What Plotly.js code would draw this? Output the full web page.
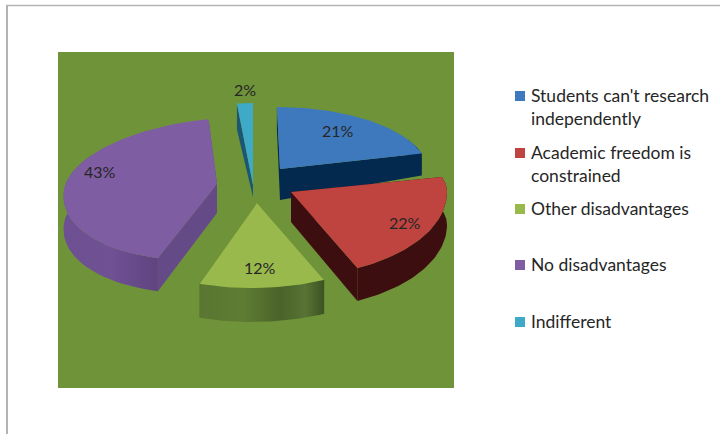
<!DOCTYPE html>
<html><head><meta charset="utf-8">
<script src="https://cdn.plot.ly/plotly-3.0.1.min.js"></script>
<style>html,body{margin:0;padding:0;background:#fff;overflow:hidden}#c{width:720px;height:434px}</style>
</head><body><div id="c"></div><script>
// ---- data ----
const categories = ["Students can't research<br>independently","Academic freedom is<br>constrained","Other disadvantages","No disadvantages","Indifferent"];
const percents = [21,22,12,43,2];
// ---- styles ----
const topColors  = ["#3f79bd","#bf4440","#99b94c","#7f5da3","#3fa9c8"];
const cutColors  = ["#03294e","#3c0e0f","#4c6628","#654a88","#1c5670"];
const wallScales = [
  [[0,"#03294e"],[1,"#03294e"]],
  [[0,"#3c0e0f"],[1,"#3c0e0f"]],
  [[0,"#5a7631"],[0.35,"#5f7c33"],[0.65,"#4a6329"],[0.85,"#587334"],[1,"#3d5222"]],
  [[0,"#6d5092"],[0.5,"#6f5194"],[1,"#5f4480"]],
  [[0,"#1c5670"],[1,"#1c5670"]]
];
// projection of each exploded slice onto the page (pixels)
const apexX = [280,291,257,217,253], apexY = [169,192,203,184,185];
const radX  = [147,156,169,152,128], radBack = [62,60,85,66,82], radFront = [60,84,85,76,80];
const skew  = [0.05,0,-0.063,-0.164,0], tilt = [0,0,0,-0.04,0];
const rimDepth = [22,33,34,33,26], apexDepth = [31,30,0,29,12];
const labelX = [338,405,260,100,245], labelY = [130,222,267,171,89];
const legendY = [96,153,209,265,322];
const paintOrder = [4,0,3,2,1];

function rim(i,deg){
  const t = deg*Math.PI/180, s = Math.sin(t), c = Math.cos(t);
  const dx = radX[i]*s;
  const dy = -(c>0?radBack[i]:radFront[i])*c + tilt[i]*dx;
  return [apexX[i]+dx+skew[i]*dy, apexY[i]+dy];
}
const starts = []; let acc = 0;
percents.forEach(p=>{starts.push(acc); acc += p*3.6;});

const traces = [];
const poly = (xy,color,grad)=>{
  const t = {type:"scatter",mode:"lines",x:xy.map(p=>p[0]),y:xy.map(p=>p[1]),fill:"toself",
    line:{width:0},fillcolor:color,hoverinfo:"skip",showlegend:false};
  if(grad) t.fillgradient = {type:"horizontal",colorscale:grad};
  traces.push(t);
};
paintOrder.forEach(i=>{
  const a0 = starts[i], a1 = a0+percents[i]*3.6;
  const arc = [];
  for(let k=0;k<=60;k++) arc.push(rim(i,a0+(a1-a0)*k/60));
  const ap = [apexX[i],apexY[i]], d = rimDepth[i], da = apexDepth[i];
  const down = (p,h)=>[p[0],p[1]+h];
  // cut faces
  poly([ap,arc[0],down(arc[0],d),down(ap,da),ap],cutColors[i]);
  poly([ap,arc[60],down(arc[60],d),down(ap,da),ap],cutColors[i]);
  // outer wall: only the front part of the rim shows below the top face
  const front = arc.filter(p=>p[1]>=apexY[i]-30);
  if(front.length>1) poly(front.concat(front.slice().reverse().map(p=>down(p,d))),cutColors[i],wallScales[i]);
  // top face
  poly([ap].concat(arc,[ap]),topColors[i]);
});
// legend swatches
traces.push({type:"scatter",mode:"markers",x:legendY.map(()=>520),y:legendY,
  marker:{symbol:"square",size:10,color:topColors,line:{width:0}},hoverinfo:"skip",showlegend:false});

const txtFont = {family:"Lato, 'Open Sans', sans-serif",color:"#262626"};
const annotations = [];
percents.forEach((p,i)=>annotations.push({x:labelX[i],y:labelY[i],xref:"x",yref:"y",text:p+"%",showarrow:false,
  font:Object.assign({size:16},txtFont)}));
categories.forEach((c,i)=>{
  const lines = c.split("<br>");
  lines.forEach((l,j)=>annotations.push({x:529,y:legendY[i]+j*23-0.5,xref:"x",yref:"y",text:l,showarrow:false,
    xanchor:"left",yanchor:"middle",font:Object.assign({size:17.5},txtFont)}));
});
const layout = {
  width:720,height:434,margin:{l:0,r:0,t:0,b:0},paper_bgcolor:"#fff",plot_bgcolor:"rgba(0,0,0,0)",showlegend:false,
  xaxis:{range:[0,720],visible:false,fixedrange:true},
  yaxis:{range:[434,0],visible:false,fixedrange:true},
  shapes:[
    {type:"rect",layer:"below",x0:58,x1:454,y0:52,y1:388,fillcolor:"#6f9339",line:{width:0}},
    {type:"line",layer:"below",x0:7,x1:7,y0:5,y1:434,line:{color:"#ababab",width:1.8}},
    {type:"line",layer:"below",x0:6,x1:720,y0:5.5,y1:5.5,line:{color:"#b4b4b4",width:1.5}}
  ],
  annotations
};
Plotly.newPlot("c",traces,layout,{displayModeBar:false,staticPlot:true});
</script></body></html>
